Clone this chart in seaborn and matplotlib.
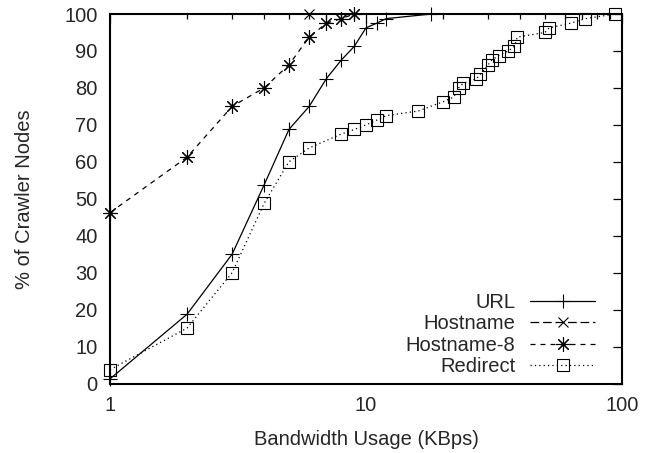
import matplotlib
matplotlib.use("Agg")
import matplotlib.pyplot as plt
import seaborn as sns
import numpy as np
from matplotlib.ticker import NullFormatter, LogLocator

# ---- data ----
url_x = [1, 2, 3, 4, 5, 6, 7, 8, 9, 10, 11, 12, 18]
url_y = [1.25, 18.75, 35, 53.75, 68.75, 75, 82.5, 87.5, 91.25, 96.25, 97.5, 98.75, 100]

hostname_x = [6]
hostname_y = [100]

hostname8_x = [1, 2, 3, 4, 5, 6, 7, 8, 9]
hostname8_y = [46.25, 61.25, 75, 80, 86.25, 93.75, 97.5, 98.75, 100]

redirect_x = [1, 2, 3, 4, 5, 6, 8, 9, 10, 11, 12, 16, 20, 22, 23, 24, 27, 28,
              30, 31, 33, 36, 38, 39, 50, 52, 63, 72, 94]
redirect_y = [3.75, 15, 30, 48.75, 60, 63.75, 67.5, 68.75, 70, 71.25, 72.5,
              73.75, 76.25, 77.5, 80, 81.25, 82.5, 83.75, 86.25, 87.5, 88.75,
              90, 91.25, 93.75, 95, 96.25, 97.5, 98.75, 100]

series_names = ["URL", "Hostname", "Hostname-8", "Redirect"]
y_ticks = list(range(0, 101, 10))
x_ticks = [1, 10, 100]
x_ticklabels = ["1", "10", "100"]
xlabel = "Bandwidth Usage (KBps)"
ylabel = "% of Crawler Nodes"

# ---- style ----
sns.set_theme(style="white")
plt.rcParams["font.family"] = ["Liberation Sans", "DejaVu Sans"]
plt.rcParams["font.size"] = 14.5

fig = plt.figure(figsize=(6.53, 4.53), dpi=100)
ax = fig.add_axes([110 / 653, 1 - 383.5 / 453, 512 / 653, (383.5 - 14) / 453])

lw = 0.9
common = dict(color="black", linewidth=lw, estimator=None, ax=ax,
              markeredgewidth=0.8, markeredgecolor="black", clip_on=False)

sns.lineplot(x=url_x, y=url_y, label=series_names[0], marker="+",
             markersize=10, linestyle="-", **common)
sns.lineplot(x=hostname_x, y=hostname_y, label=series_names[1], marker="x",
             markersize=7.5, linestyle=(0, (7, 3)), **common)
sns.lineplot(x=hostname8_x, y=hostname8_y, label=series_names[2],
             marker=(8, 2, 0), markersize=10.5, linestyle=(0, (4, 4)), **common)
sns.lineplot(x=redirect_x, y=redirect_y, label=series_names[3], marker="s",
             markersize=8, markerfacecolor="none",
             linestyle=(0, (1, 2.5)), **common)

ax.set_xscale("log")
ax.set_xlim(1, 100)
ax.set_ylim(0, 100)
ax.set_xticks(x_ticks)
ax.set_xticklabels(x_ticklabels)
ax.xaxis.set_minor_locator(LogLocator(base=10, subs=np.arange(2, 10)))
ax.xaxis.set_minor_formatter(NullFormatter())
ax.set_yticks(y_ticks)
ax.set_yticklabels([str(v) for v in y_ticks])

for s in ax.spines.values():
    s.set_color("black")
    s.set_linewidth(1.5)
    s.set_zorder(1)

ax.tick_params(which="both", direction="in", top=True, right=True,
               color="black", width=0.9)
ax.tick_params(which="major", length=6.5)
ax.tick_params(which="minor", length=3.5)
ax.tick_params(axis="x", which="major", pad=9, labelsize=14.5)
ax.tick_params(axis="y", which="major", pad=9, labelsize=14.5)

ax.set_xlabel(xlabel, fontsize=14.5, labelpad=11)
ax.set_ylabel(ylabel, fontsize=14.5, labelpad=22)

leg = ax.legend(loc="lower right", bbox_to_anchor=(0.947, 0.02),
                markerfirst=False, frameon=False, borderpad=0,
                borderaxespad=0, handlelength=3.2, handletextpad=0.75,
                labelspacing=0.12, fontsize=14.5)

fig.savefig("out.png", dpi=100)
